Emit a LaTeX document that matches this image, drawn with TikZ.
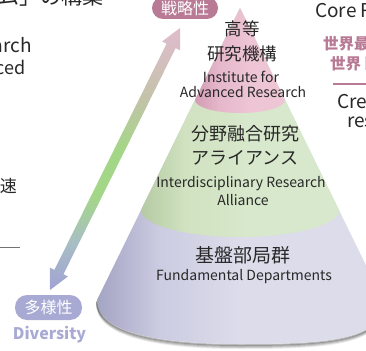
\documentclass[tikz,border=0pt]{standalone}
\usepackage{fontspec}
\setmainfont{Noto Sans CJK JP}
\usetikzlibrary{calc}
\definecolor{txt}{RGB}{40,40,40}
\definecolor{mauve}{RGB}{184,122,148}
\definecolor{lavpill}{RGB}{168,170,212}
\definecolor{lavL}{RGB}{164,164,196}
\definecolor{lavM}{RGB}{204,204,226}
\definecolor{lavR}{RGB}{220,220,234}
\definecolor{grnL}{RGB}{180,202,164}
\definecolor{grnM}{RGB}{208,226,192}
\definecolor{grnR}{RGB}{216,232,204}
\definecolor{pnkL}{RGB}{210,156,178}
\definecolor{pnkM}{RGB}{229,183,202}
\definecolor{pnkR}{RGB}{237,197,212}
\definecolor{arrT}{RGB}{224,188,206}
\definecolor{arrU}{RGB}{196,194,170}
\definecolor{arrM}{RGB}{164,214,136}
\definecolor{arrD}{RGB}{168,190,196}
\definecolor{arrB}{RGB}{160,162,212}
\pgfdeclarehorizontalshading{lavsh}{100bp}{color(0bp)=(lavL); color(25bp)=(lavL); color(36bp)=(lavM); color(50bp)=(lavR); color(100bp)=(lavR)}
\pgfdeclarehorizontalshading{grnsh}{100bp}{color(0bp)=(grnL); color(25bp)=(grnL); color(36bp)=(grnM); color(52bp)=(grnR); color(100bp)=(grnR)}
\pgfdeclarehorizontalshading{pnksh}{100bp}{color(0bp)=(pnkL); color(25bp)=(pnkL); color(38bp)=(pnkM); color(55bp)=(pnkR); color(100bp)=(pnkR)}
\pgfdeclareverticalshading{arrsh}{100bp}{color(0bp)=(arrB); color(25bp)=(arrB); color(34bp)=(arrD); color(43bp)=(arrM); color(52bp)=(arrM); color(62bp)=(arrU); color(75bp)=(arrT); color(100bp)=(arrT)}
\tikzset{
  pill/.style={inner sep=0pt, text=white, font=\fontsize{16}{18}\selectfont},
  jpbig/.style={inner sep=0pt, text=txt, font=\fontsize{17.5}{20}\selectfont},
  enlab/.style={inner sep=0pt, text=txt, font=\fontsize{14}{16}\selectfont},
  sidetxt/.style={inner sep=0pt, text=txt, font=\fontsize{19}{22}\selectfont},
  sidejp/.style={inner sep=0pt, text=mauve, font=\bfseries\fontsize{15.5}{18}\selectfont},
}
\begin{document}
\begin{tikzpicture}[x=1pt,y=-1pt]
\useasboundingbox (0,0) rectangle (366,350);
\clip (0,0) rectangle (366,350);
\fill[white] (0,0) rectangle (366,350);
% shadow under cone
\foreach \d/\o in {4/0.08,3/0.12,2/0.18,1/0.25}{
  \draw[black, opacity=\o, line width=2pt] (97,{300+\d}) .. controls (97,{330+\d}) and (150,{344+\d}) .. (240,{344+\d}) .. controls (330,{344+\d}) and (385,{340+\d}) .. (383,{300+\d});
}
% cone layers
\shade[shading=lavsh] (240,8) -- (97,300) .. controls (97,330) and (150,344) .. (240,344) .. controls (330,344) and (385,340) .. (383,300) -- cycle;
\shade[shading=grnsh] (240,8) -- (141,210) arc[start angle=180, end angle=0, x radius=99, y radius=27] -- cycle;
\shade[shading=pnksh] (240,8) -- (195,100) arc[start angle=180, end angle=0, x radius=45, y radius=13] -- cycle;
% double arrow
\coordinate (aT) at (180,28);
\coordinate (aB) at (50,290);
\shade[shading=arrsh]
  (aT) -- (180.1,50.4) -- (175.6,48.1) -- (63.4,274.3) -- (67.9,276.5) -- (aB)
  -- (49.9,267.6) -- (54.4,269.9) -- (166.6,43.7) -- (162.1,41.5) -- cycle;
% pills
\node[pill, fill=mauve, rounded corners=11pt, minimum width=66pt, minimum height=22pt] (strat) at (185,8) {戦略性};
\node[pill, fill=lavpill, rounded corners=12pt, minimum width=67pt, minimum height=25pt] (div) at (48.5,307.5) {多様性};
\node[inner sep=0pt, text=lavpill, font=\bfseries\fontsize{16}{18}\selectfont] (diven) at (49.5,335) {Diversity};
% cone labels
\node[jpbig] (t1) at (242,29) {高等};
\node[jpbig] (t2) at (242,54) {研究機構};
\node[enlab] (t3) at (241,77) {Institute for};
\node[enlab] (t4) at (243,92) {Advanced Research};
\node[jpbig, font=\fontsize{18}{20}\selectfont] (m1) at (245,134) {分野融合研究};
\node[jpbig, font=\fontsize{18}{20}\selectfont] (m2) at (245,158) {アライアンス};
\node[enlab] (m3) at (241,184) {Interdisciplinary Research};
\node[enlab] (m4) at (243,200) {Alliance};
\node[jpbig, font=\fontsize{19}{22}\selectfont] (b1) at (243,255) {基盤部局群};
\node[enlab] (b2) at (244,277) {Fundamental Departments};
% cut-off side texts
\node[inner sep=0pt, text=txt, font=\fontsize{21}{24}\selectfont, anchor=base east] (title) at (104,5) {ム」の構築};
\node[sidetxt, font=\fontsize{19}{22}\selectfont, anchor=base east] (l1) at (32,53) {Research};
\node[sidetxt, font=\fontsize{18}{22}\selectfont, anchor=base east] (l2) at (26,75) {Advanced};
\node[inner sep=0pt, text=txt, font=\fontsize{17}{20}\selectfont, anchor=base east] (l3) at (17,192) {加速};
\coordinate (lnA) at (0,247);
\coordinate (lnB) at (20,247);
\draw[black!55, line width=0.8pt] (lnA) -- (lnB);
\node[sidetxt, anchor=base west] (r1) at (315,18) {Core Research};
\node[sidejp, anchor=base west] (r2) at (323,50) {世界最高};
\node[sidejp, anchor=base west] (r3) at (330,70) {世界トップ};
\coordinate (rlA) at (333,84);
\coordinate (rlB) at (370,84);
\draw[mauve, line width=2pt] (rlA) -- (rlB);
\node[sidetxt, anchor=base west] (r4) at (337,108) {Creating};
\node[sidetxt, anchor=base west] (r5) at (347,127) {research};
\end{tikzpicture}
\end{document}
